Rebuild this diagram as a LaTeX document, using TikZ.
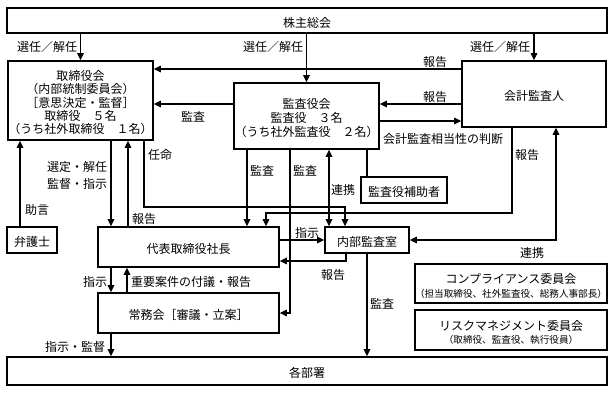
\documentclass[tikz,border=0pt]{standalone}
\usepackage{fontspec}
\setmainfont{Noto Sans CJK JP}
\usetikzlibrary{arrows.meta}
\newcommand{\jpA}{\fontsize{12bp}{13.4bp}\selectfont\lineskiplimit-20pt\relax}
\newcommand{\jpB}{\fontsize{12bp}{14bp}\selectfont\lineskiplimit-20pt\relax}
\newcommand{\jpL}{\fontsize{12bp}{17bp}\selectfont\lineskiplimit-20pt\relax}
\newcommand{\jpS}{\fontsize{9.6bp}{11bp}\selectfont}
\begin{document}
\begin{tikzpicture}[x=1bp,y=-1bp,
  box/.style={draw, line width=1.6bp, inner sep=0pt},
  txt/.style={inner sep=0pt, align=center, yshift=-2.2bp, font=\jpA},
  lbl/.style={inner sep=0pt, align=center, yshift=-1.5bp, font=\jpL},
  small/.style={inner sep=0pt, yshift=-2bp, font=\jpS},
  conn/.style={line width=1.3bp},
  arr/.style={conn, -{Triangle[length=7bp,width=6.5bp]}},
  arr2/.style={conn, {Triangle[length=7bp,width=6.5bp]}-{Triangle[length=7bp,width=6.5bp]}},
]
\useasboundingbox (0,0) rectangle (615,392);
% boxes
\node[box, minimum width=600bp, minimum height=25bp] (kabu) at (307,20.5) {};
\node[txt] (kabuT) at (kabu.center) {株主総会};
\node[box, minimum width=145bp, minimum height=79bp] (tori) at (80.5,100.5) {};
\node[txt] (toriT) at (tori.center) {取締役会\\（内部統制委員会）\\［意思決定・監督］\\取締役　５名\\（うち社外取締役　１名）};
\node[box, minimum width=145bp, minimum height=66bp] (kansa) at (306.5,116) {};
\node[txt, font=\jpB] (kansaT) at (kansa.center) {監査役会\\監査役　３名\\（うち社外監査役　２名）};
\node[box, minimum width=144bp, minimum height=66bp] (kaikei) at (534,94) {};
\node[txt] (kaikeiT) at (kaikei.center) {会計監査人};
\node[box, minimum width=86bp, minimum height=26bp] (hojo) at (404,190) {};
\node[txt] (hojoT) at (hojo.center) {監査役補助者};
\node[box, minimum width=50bp, minimum height=26bp] (bengo) at (32,240) {};
\node[txt] (bengoT) at (bengo.center) {弁護士};
\node[box, minimum width=181bp, minimum height=40bp] (daihyo) at (188.5,247) {};
\node[txt] (daihyoT) at (daihyo.center) {代表取締役社長};
\node[box, minimum width=181bp, minimum height=40bp] (jomu) at (188.5,313) {};
\node[txt] (jomuT) at (jomu.center) {常務会［審議・立案］};
\node[box, minimum width=600bp, minimum height=28bp] (kakubu) at (307,371) {};
\node[txt] (kakubuT) at (kakubu.center) {各部署};
\node[box, minimum width=84bp, minimum height=26bp] (naibu) at (367,240) {};
\node[txt] (naibuT) at (naibu.center) {内部監査室};
\node[box, minimum width=192bp, minimum height=39bp] (comp) at (511,283.5) {};
\node[lbl] (comp1) at (511,277.5) {コンプライアンス委員会};
\node[small] (comp2) at (511,292) {（担当取締役、社外監査役、総務人事部長）};
\node[box, minimum width=192bp, minimum height=40bp] (risk) at (511,330) {};
\node[lbl] (risk1) at (511,324) {リスクマネジメント委員会};
\node[small] (risk2) at (511,338) {（取締役、監査役、執行役員）};

% connectors from shareholders
\draw[arr] (tori.north |- kabu.south) -- (tori.north);
\node[lbl] (l1) at (47,45) {選任／解任};
\draw[arr] (kansa.north |- kabu.south) -- (kansa.north);
\node[lbl] (l2) at (273,45) {選任／解任};
\draw[arr] (kaikei.north |- kabu.south) -- (kaikei.north);
\node[lbl] (l3) at (500,45) {選任／解任};

% auditor reports
\draw[arr] (kaikei.west |- 0,69) -- (tori.east |- 0,69);
\node[lbl] (l4) at (435,60) {報告};
\draw[arr] (kaikei.west |- 0,104) -- (kansa.east |- 0,104);
\node[lbl] (l5) at (435,95) {報告};
\draw[arr] (kansa.east |- 0,121) -- (kaikei.west |- 0,121);
\node[lbl] (l6) at (443,137) {会計監査相当性の判断};
\draw[arr] (kansa.west |- 0,104) -- (tori.east |- 0,104);
\node[lbl] (l7) at (193,115) {監査};

% lawyer
\draw[arr] (20,0 |- bengo.north) -- (20,0 |- tori.south);
\node[lbl] (l8) at (37,208) {助言};

% board <-> president
\draw[arr] (111,0 |- tori.south) -- (111,0 |- daihyo.north);
\node[lbl] (l9) at (77,173.5) {選定・解任\\監督・指示};
\draw[arr] (128,0 |- daihyo.north) -- (128,0 |- tori.south);
\node[lbl] (l10) at (144,217) {報告};
\draw[arr] (144,0 |- tori.south) -- (144,207) -- (345,207) -- (345,0 |- naibu.north);
\node[lbl] (l11) at (160,153) {任命};

% audit board lines
\draw[arr] (247,0 |- kansa.south) -- (247,0 |- daihyo.north);
\node[lbl] (l12) at (262,169) {監査};
\draw[arr] (290,0 |- kansa.south) -- (290,0 |- jomu.east) -- (jomu.east);
\node[lbl] (l13) at (305,169) {監査};
\draw[arr2] (329,0 |- kansa.south) -- (329,0 |- naibu.north);
\node[lbl] (l14) at (343,188) {連携};
\draw[conn] (367,0 |- kansa.south) -- (367,0 |- hojo.north);

% accounting auditor report
\draw[arr] (512,0 |- kaikei.south) -- (512,213) -- (266,213) -- (266,0 |- daihyo.north);
\node[lbl] (l15) at (527,153) {報告};

% president <-> internal audit
\draw[arr] (daihyo.east |- naibu.west) -- (naibu.west);
\node[lbl] (l16) at (307,231) {指示};
\draw[arr] (346,0 |- naibu.south) -- (346,261) -- (daihyo.east |- 0,261);
\node[lbl] (l17) at (333,273) {報告};
\draw[arr] (367,0 |- naibu.south) -- (367,0 |- kakubu.north);
\node[lbl] (l18) at (382,302) {監査};
\draw[arr2] (naibu.east) -- (556,0 |- naibu.east) -- (556,0 |- kaikei.south);
\node[lbl] (l19) at (532,251) {連携};

% president <-> executive committee
\draw[arr] (111,0 |- daihyo.south) -- (111,0 |- jomu.north);
\node[lbl] (l20) at (95,280) {指示};
\draw[arr] (127,0 |- jomu.north) -- (127,0 |- daihyo.south);
\node[lbl] (l21) at (191,280) {重要案件の付議・報告};
\draw[arr] (111,0 |- jomu.south) -- (111,0 |- kakubu.north);
\node[lbl] (l22) at (75,345) {指示・監督};
\end{tikzpicture}
\end{document}
